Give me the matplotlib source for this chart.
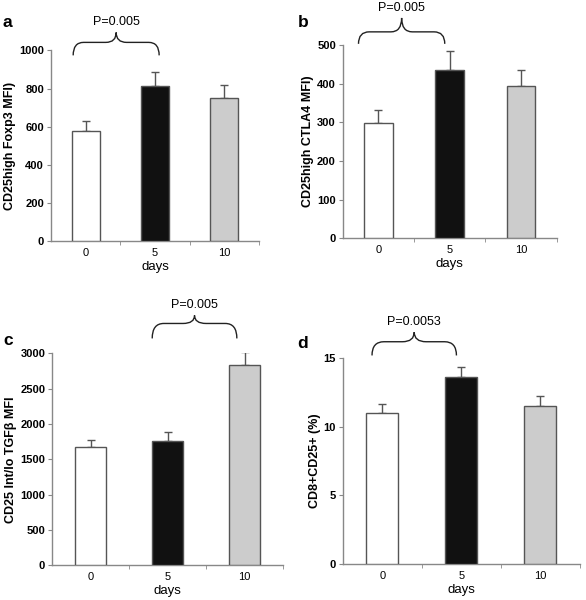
import numpy as np
import matplotlib.pyplot as plt
from matplotlib.path import Path
from matplotlib.patches import PathPatch

plt.rcParams['font.family'] = ['Liberation Sans', 'DejaVu Sans']

days = ['0', '5', '10']
bar_colors = ['#ffffff', '#111111', '#cccccc']

# 各面板数据：均值、误差上端
a_vals = [580, 815, 752]
a_err = [52, 73, 68]
b_vals = [298, 436, 394]
b_err = [33, 48, 41]
c_vals = [1670, 1760, 2830]
c_err = [105, 125, 195]
d_vals = [11.0, 13.6, 11.55]
d_err = [0.65, 0.75, 0.7]

ylabels = ['CD25high Foxp3 MFI)', 'CD25high CTLA4 MFI)',
           'CD25 Int/lo TGFβ MFI', 'CD8+CD25+ (%)']
yticks = [np.arange(0, 1001, 200), np.arange(0, 501, 100),
          np.arange(0, 3001, 500), [0, 5, 10, 15]]
ylims = [1000, 500, 3000, 15]
p_texts = ['P=0.005', 'P=0.005', 'P=0.005', 'P=0.0053']
# 括号：左端、右端、底、顶、尖 (数据坐标)
braces = [(-0.18, 1.06, 974, 1042, 1094),
          (-0.28, 0.93, 503, 534, 570),
          (0.80, 1.90, 3212, 3424, 3538),
          (-0.13, 0.94, 15.2, 16.2, 16.9)]
letters = ['a', 'b', 'c', 'd']

# 坐标轴位置 [left, bottom, width, height]
positions = [[0.087, 0.598, 0.355, 0.318],
             [0.585, 0.603, 0.365, 0.322],
             [0.089, 0.058, 0.394, 0.353],
             [0.585, 0.060, 0.404, 0.343]]
letter_pos = [(0.005, 0.975), (0.508, 0.975), (0.005, 0.445), (0.508, 0.44)]

values = [a_vals, b_vals, c_vals, d_vals]
errors = [a_err, b_err, c_err, d_err]

fig = plt.figure(figsize=(5.86, 6.0), dpi=100)


def draw_brace(ax, x0, x1, yb, yt, ytip):
    xm = (x0 + x1) / 2
    dx = 0.15
    verts = [(x0, yb), (x0, yt), (x0 + dx, yt),
             (xm - dx, yt), (xm, yt), (xm, ytip),
             (xm, yt), (xm + dx, yt),
             (x1 - dx, yt), (x1, yt), (x1, yb)]
    codes = [Path.MOVETO, Path.CURVE3, Path.CURVE3,
             Path.LINETO, Path.CURVE3, Path.CURVE3,
             Path.CURVE3, Path.CURVE3,
             Path.LINETO, Path.CURVE3, Path.CURVE3]
    patch = PathPatch(Path(verts, codes), facecolor='none', edgecolor='#222222',
                      lw=1.0, clip_on=False)
    ax.add_patch(patch)
    return xm, ytip


for i in range(4):
    ax = fig.add_axes(positions[i])
    x = np.arange(3)
    ax.bar(x, values[i], width=0.4, color=bar_colors, edgecolor='#555555', lw=1.0, zorder=3)
    ax.errorbar(x, values[i], yerr=[[0, 0, 0], errors[i]], fmt='none',
                ecolor='#555555', elinewidth=1.0, capsize=3, capthick=1.0, zorder=2)
    ax.set_xlim(-0.5, 2.5)
    ax.set_ylim(0, ylims[i])
    ax.set_yticks(yticks[i])
    ax.set_xticks(x)
    ax.set_xticklabels(days, fontsize=8)
    ax.set_xticks([0.5, 1.5, 2.5], minor=True)
    ax.tick_params(axis='x', which='major', length=0, pad=5)
    ax.tick_params(axis='x', which='minor', length=3, color='#888888', direction='out')
    ax.tick_params(axis='y', length=3, color='#888888', labelsize=8, pad=2)
    for lab in ax.get_yticklabels():
        lab.set_fontweight('bold')
    for s in ['top', 'right']:
        ax.spines[s].set_visible(False)
    for s in ['left', 'bottom']:
        ax.spines[s].set_color('#888888')
        ax.spines[s].set_linewidth(1.0)
    ax.set_ylabel(ylabels[i], fontsize=9, fontweight='bold', labelpad=2)
    ax.set_xlabel('days', fontsize=9.5, labelpad=2)

    xm, ytip = draw_brace(ax, *braces[i])
    ax.annotate(p_texts[i], (xm, ytip), xytext=(0, 3), textcoords='offset points',
                ha='center', va='bottom', fontsize=9, annotation_clip=False)
    fig.text(letter_pos[i][0], letter_pos[i][1], letters[i], fontsize=12.5,
             fontweight='bold', ha='left', va='top')

fig.savefig('out.png', dpi=100)
